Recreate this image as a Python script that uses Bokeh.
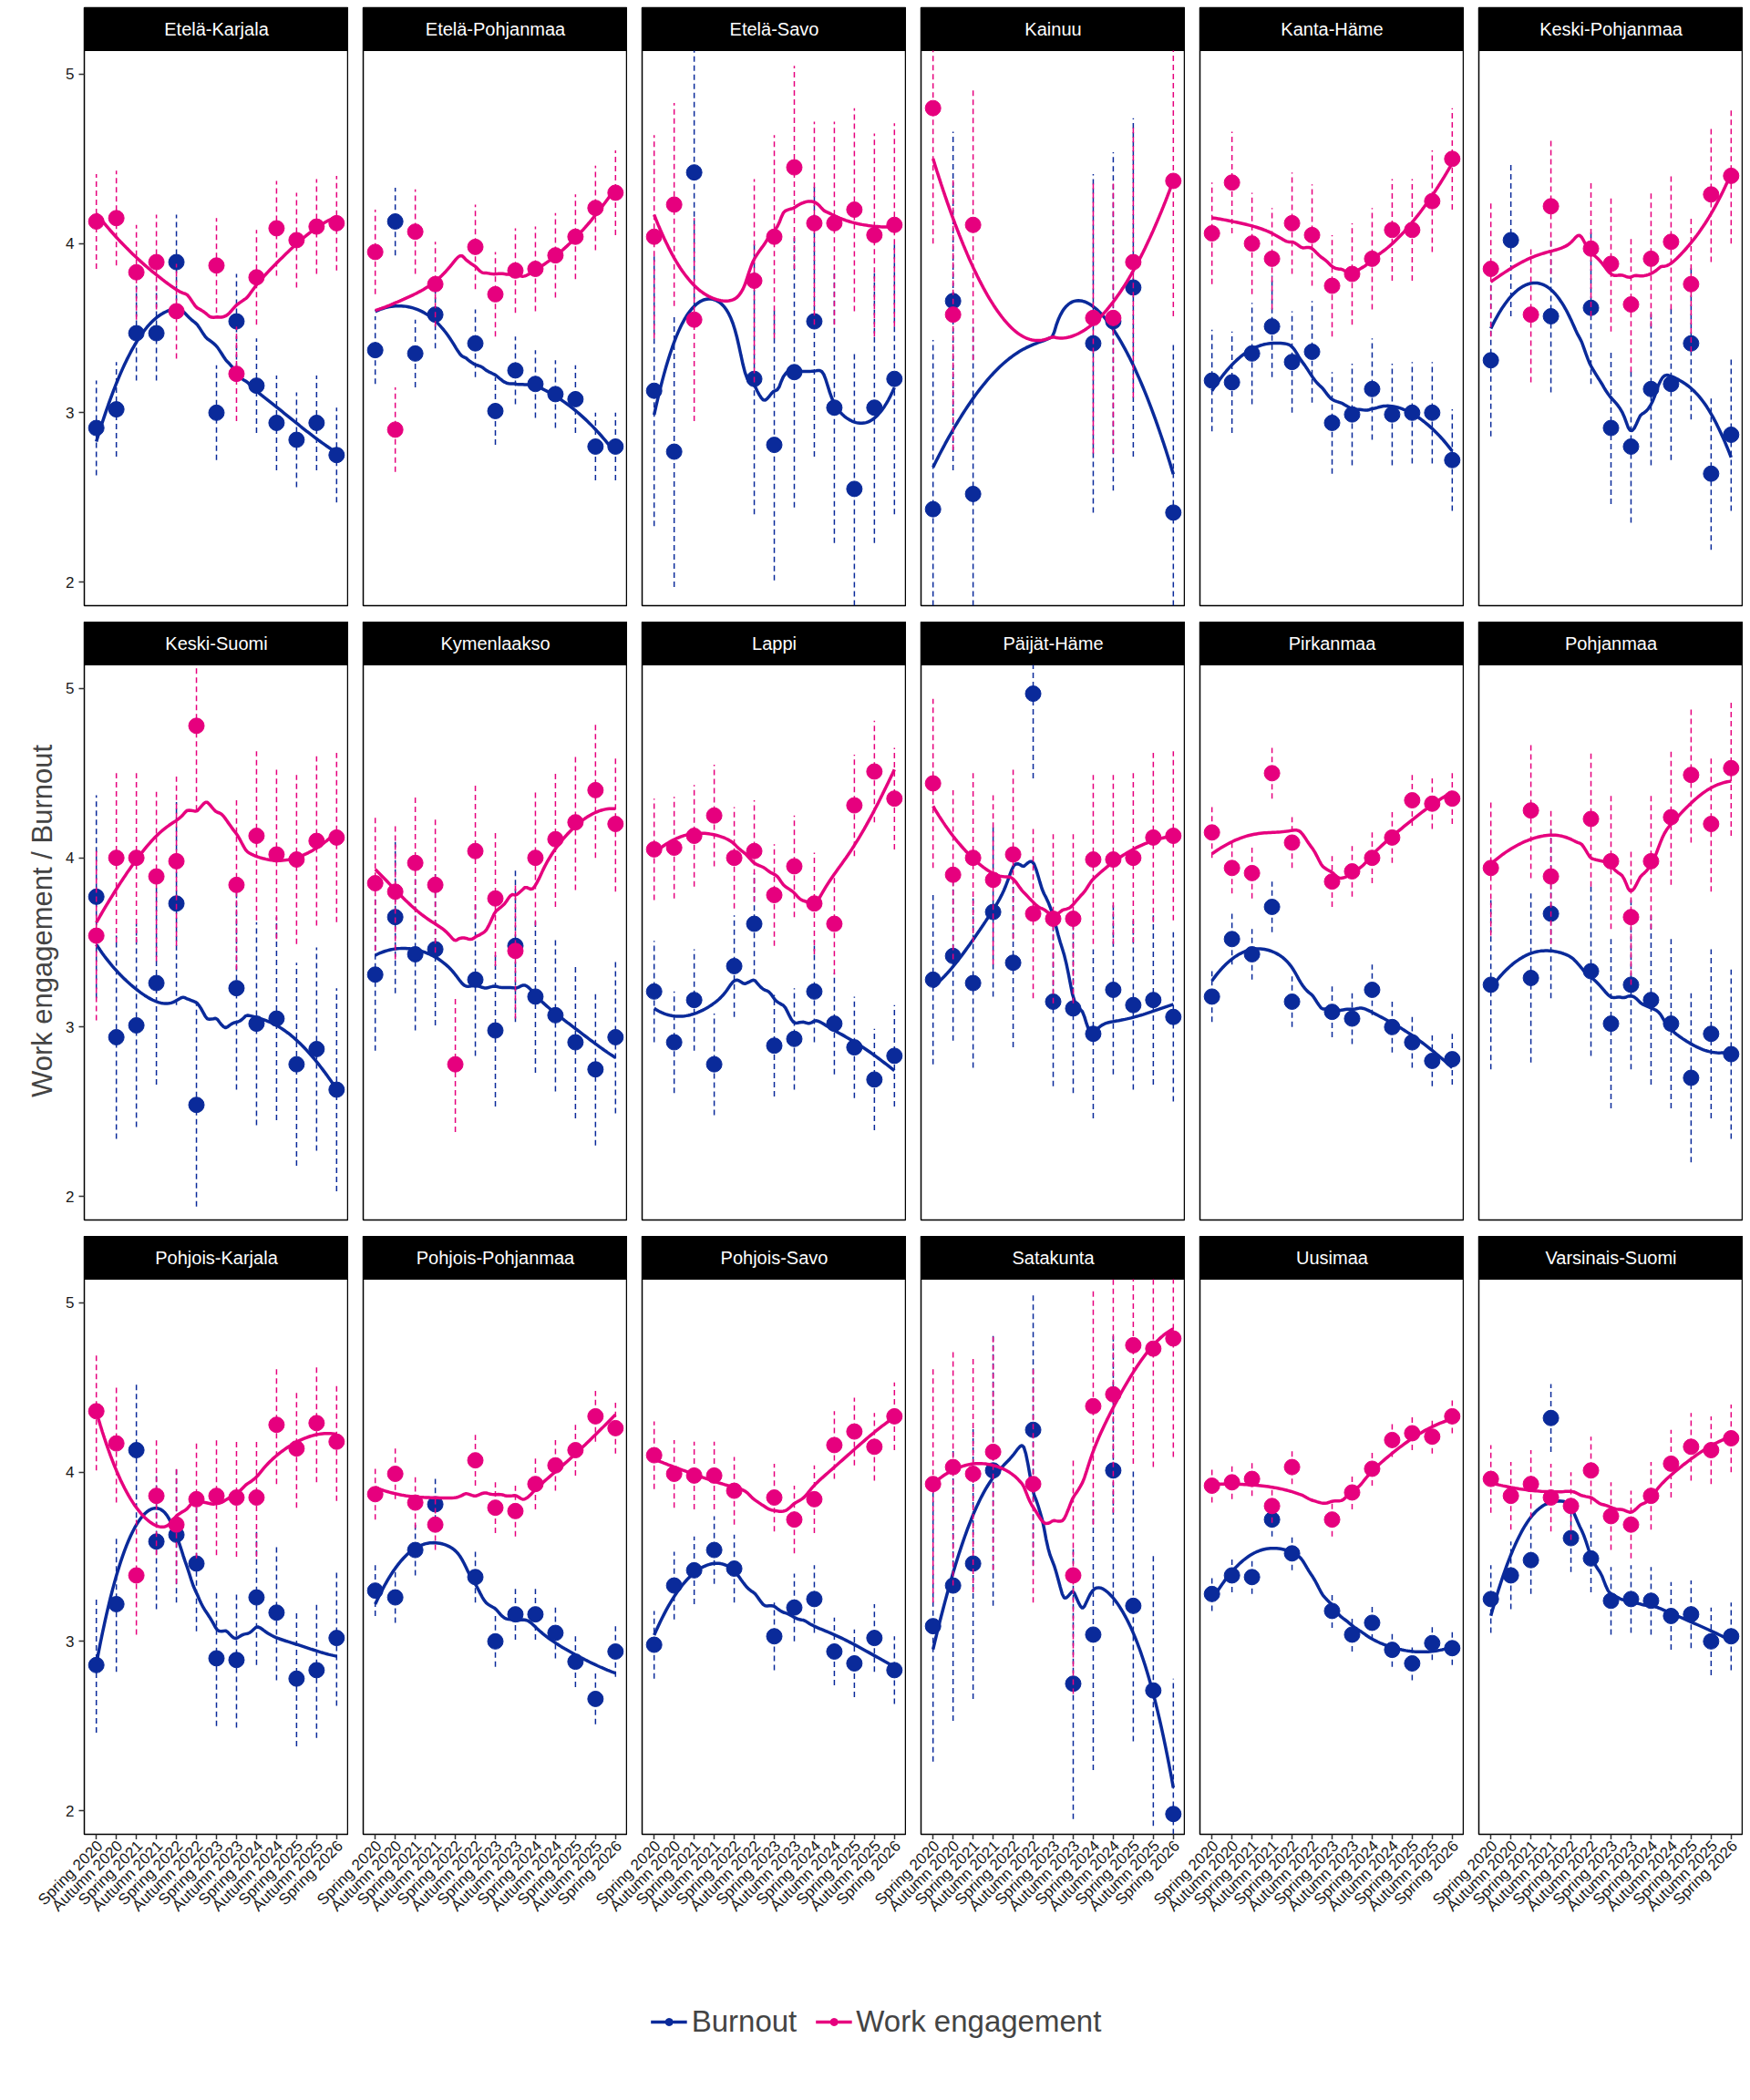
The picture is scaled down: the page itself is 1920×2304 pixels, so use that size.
import numpy as np
from bokeh.plotting import figure
from bokeh.layouts import gridplot, column
from bokeh.models import FixedTicker, Range1d, Legend, LegendItem
from bokeh.core.properties import value
from bokeh.embed import file_html
from bokeh.resources import INLINE

nan = float("nan")
periods = ["Spring 2020", "Autumn 2020", "Spring 2021", "Autumn 2021", "Spring 2022", "Autumn 2022",
           "Spring 2023", "Autumn 2023", "Spring 2024", "Autumn 2024", "Spring 2025", "Autumn 2025", "Spring 2026"]
regions = ["Etelä-Karjala", "Etelä-Pohjanmaa", "Etelä-Savo", "Kainuu", "Kanta-Häme", "Keski-Pohjanmaa",
           "Keski-Suomi", "Kymenlaakso", "Lappi", "Päijät-Häme", "Pirkanmaa", "Pohjanmaa",
           "Pohjois-Karjala", "Pohjois-Pohjanmaa", "Pohjois-Savo", "Satakunta", "Uusimaa", "Varsinais-Suomi"]

burnout = {
    "Etelä-Karjala": [2.91, 3.02, 3.47, 3.47, 3.89, nan, 3.00, 3.54, 3.16, 2.94, 2.84, 2.94, 2.75],
    "Etelä-Pohjanmaa": [3.37, 4.13, 3.35, 3.58, nan, 3.41, 3.01, 3.25, 3.17, 3.11, 3.08, 2.80, 2.80],
    "Etelä-Savo": [3.13, 2.77, 4.42, nan, nan, 3.20, 2.81, 3.24, 3.54, 3.03, 2.55, 3.03, 3.20],
    "Kainuu": [2.43, 3.66, 2.52, nan, nan, nan, nan, nan, 3.41, 3.54, 3.74, nan, 2.41],
    "Kanta-Häme": [3.19, 3.18, 3.35, 3.51, 3.30, 3.36, 2.94, 2.99, 3.14, 2.99, 3.00, 3.00, 2.72],
    "Keski-Pohjanmaa": [3.31, 4.02, nan, 3.57, nan, 3.62, 2.91, 2.80, 3.14, 3.17, 3.41, 2.64, 2.87],
    "Keski-Suomi": [3.77, 2.94, 3.01, 3.26, 3.73, 2.54, nan, 3.23, 3.02, 3.05, 2.78, 2.87, 2.63],
    "Kymenlaakso": [3.31, 3.65, 3.43, 3.46, nan, 3.28, 2.98, 3.48, 3.18, 3.07, 2.91, 2.75, 2.94],
    "Lappi": [3.21, 2.91, 3.16, 2.78, 3.36, 3.61, 2.89, 2.93, 3.21, 3.02, 2.88, 2.69, 2.83],
    "Päijät-Häme": [3.28, 3.42, 3.26, 3.68, 3.38, 4.97, 3.15, 3.11, 2.96, 3.22, 3.13, 3.16, 3.06],
    "Pirkanmaa": [3.18, 3.52, 3.43, 3.71, 3.15, nan, 3.09, 3.05, 3.22, 3.00, 2.91, 2.80, 2.81],
    "Pohjanmaa": [3.25, nan, 3.29, 3.67, nan, 3.33, 3.02, 3.25, 3.16, 3.02, 2.70, 2.96, 2.84],
    "Pohjois-Karjala": [2.86, 3.22, 4.13, 3.59, 3.63, 3.46, 2.90, 2.89, 3.26, 3.17, 2.78, 2.83, 3.02],
    "Pohjois-Pohjanmaa": [3.30, 3.26, 3.54, 3.81, nan, 3.38, 3.00, 3.16, 3.16, 3.05, 2.88, 2.66, 2.94],
    "Pohjois-Savo": [2.98, 3.33, 3.42, 3.54, 3.43, nan, 3.03, 3.20, 3.25, 2.94, 2.87, 3.02, 2.83],
    "Satakunta": [3.09, 3.33, 3.46, 4.01, nan, 4.25, nan, 2.75, 3.04, 4.01, 3.21, 2.71, 1.98],
    "Uusimaa": [3.28, 3.39, 3.38, 3.72, 3.52, nan, 3.18, 3.04, 3.11, 2.95, 2.87, 2.99, 2.96],
    "Varsinais-Suomi": [3.25, 3.39, 3.48, 4.32, 3.61, 3.49, 3.24, 3.25, 3.24, 3.15, 3.16, 3.00, 3.03],
}
engagement = {
    "Etelä-Karjala": [4.13, 4.15, 3.83, 3.89, 3.60, nan, 3.87, 3.23, 3.80, 4.09, 4.02, 4.10, 4.12],
    "Etelä-Pohjanmaa": [3.95, 2.90, 4.07, 3.76, nan, 3.98, 3.70, 3.84, 3.85, 3.93, 4.04, 4.21, 4.30],
    "Etelä-Savo": [4.04, 4.23, 3.55, nan, nan, 3.78, 4.04, 4.45, 4.12, 4.12, 4.20, 4.05, 4.11],
    "Kainuu": [4.80, 3.58, 4.11, nan, nan, nan, nan, nan, 3.56, 3.56, 3.89, nan, 4.37],
    "Kanta-Häme": [4.06, 4.36, 4.00, 3.91, 4.12, 4.05, 3.75, 3.82, 3.91, 4.08, 4.08, 4.25, 4.50],
    "Keski-Pohjanmaa": [3.85, nan, 3.58, 4.22, nan, 3.97, 3.88, 3.64, 3.91, 4.01, 3.76, 4.29, 4.40],
    "Keski-Suomi": [3.54, 4.00, 4.00, 3.89, 3.98, 4.78, nan, 3.84, 4.13, 4.02, 3.99, 4.10, 4.12],
    "Kymenlaakso": [3.85, 3.80, 3.97, 3.84, 2.78, 4.04, 3.76, 3.45, 4.00, 4.11, 4.21, 4.40, 4.20],
    "Lappi": [4.05, 4.06, 4.13, 4.25, 4.00, 4.04, 3.78, 3.95, 3.73, 3.61, 4.31, 4.51, 4.35],
    "Päijät-Häme": [4.44, 3.90, 4.00, 3.87, 4.02, 3.67, 3.64, 3.64, 3.99, 3.99, 4.00, 4.12, 4.13],
    "Pirkanmaa": [4.15, 3.94, 3.91, 4.50, 4.09, nan, 3.86, 3.92, 4.00, 4.12, 4.34, 4.32, 4.35],
    "Pohjanmaa": [3.94, nan, 4.28, 3.89, nan, 4.23, 3.98, 3.65, 3.98, 4.24, 4.49, 4.20, 4.53],
    "Pohjois-Karjala": [4.36, 4.17, 3.39, 3.86, 3.69, 3.84, 3.86, 3.85, 3.85, 4.28, 4.14, 4.29, 4.18],
    "Pohjois-Pohjanmaa": [3.87, 3.99, 3.82, 3.69, nan, 4.07, 3.79, 3.77, 3.93, 4.04, 4.13, 4.33, 4.26],
    "Pohjois-Savo": [4.10, 3.99, 3.98, 3.98, 3.89, nan, 3.85, 3.72, 3.84, 4.16, 4.24, 4.15, 4.33],
    "Satakunta": [3.93, 4.03, 3.99, 4.12, nan, 3.93, nan, 3.39, 4.39, 4.46, 4.75, 4.73, 4.79],
    "Uusimaa": [3.92, 3.94, 3.96, 3.80, 4.03, nan, 3.72, 3.88, 4.02, 4.19, 4.23, 4.21, 4.33],
    "Varsinais-Suomi": [3.96, 3.86, 3.93, 3.85, 3.80, 4.01, 3.74, 3.69, 3.86, 4.05, 4.15, 4.13, 4.20],
}
# typical half-width of the dashed intervals per region (burnout, engagement)
err_b = [0.28, 0.2, 0.8, 1.0, 0.3, 0.45, 0.6, 0.45, 0.3, 0.5, 0.15, 0.5, 0.4, 0.15, 0.2, 0.8, 0.1, 0.2]
err_e = [0.28, 0.25, 0.6, 0.8, 0.3, 0.4, 0.5, 0.4, 0.3, 0.5, 0.15, 0.4, 0.35, 0.15, 0.2, 0.7, 0.1, 0.2]

BLUE = "#0A2A9A"
PINK = "#E6007E"
FONT = "Liberation Sans"


def loess(x, y, xs, span=0.75):
    n = len(x)
    q = int(np.floor(n * span)) if n >= 9 else n
    out = []
    for x0 in xs:
        d = np.abs(x - x0)
        h = np.sort(d)[q - 1]
        if q >= n:
            h = h * 1.3
        w = np.clip(1 - (d / h) ** 3, 0, None) ** 3
        X = np.vstack([np.ones(n), x - x0, (x - x0) ** 2]).T
        W = np.diag(w)
        beta = np.linalg.lstsq(X.T @ W @ X, X.T @ W @ y, rcond=None)[0]
        out.append(beta[0])
    return np.array(out)


FW, FH0, STRIP = 290, 609, 47
YLO, YHI = 1.86, 5.14
YTOP = YHI + STRIP * (YHI - YLO) / FH0
XLO, XHI = -0.6, 12.6
LB, GAP = 92, 16

figs = []
for i, reg in enumerate(regions):
    r, c = divmod(i, 6)
    p = figure(frame_width=FW, frame_height=FH0 + STRIP, output_backend="svg", toolbar_location=None,
               x_range=Range1d(XLO, XHI), y_range=Range1d(YLO, YTOP),
               min_border_left=(LB if c == 0 else GAP), min_border_right=0,
               min_border_top=(8 if r == 0 else 0), min_border_bottom=(2 if r == 2 else 18))
    p.outline_line_color = "black"
    p.outline_line_width = 1.5
    p.xgrid.visible = False
    p.ygrid.visible = False
    p.xaxis.ticker = FixedTicker(ticks=list(range(13)))
    p.xaxis.major_label_text_font_size = "0px"
    p.yaxis.ticker = FixedTicker(ticks=[2, 3, 4, 5])
    for ax in (p.xaxis[0], p.yaxis[0]):
        ax.axis_line_color = None
        ax.major_tick_line_color = "#333333"
        ax.major_tick_line_width = 1.5
        ax.major_tick_out = 6
        ax.major_tick_in = 0
        ax.minor_tick_line_color = None
    p.yaxis.major_label_text_font = FONT
    p.yaxis.major_label_text_font_size = "17px"
    p.yaxis.major_label_text_color = "#1a1a1a"
    if r != 2:
        p.xaxis.visible = False
    if c != 0:
        p.yaxis.visible = False
    if c == 0:
        p.yaxis.axis_label = "Work engagement / Burnout" if r == 1 else " "
        p.yaxis.axis_label_text_font = FONT
        p.yaxis.axis_label_text_font_size = "31px"
        p.yaxis.axis_label_text_font_style = "normal"
    # strip
    p.quad(left=XLO, right=XHI, bottom=YHI, top=YTOP, fill_color="black", line_color="black")
    p.text(x=[(XLO + XHI) / 2], y=[(YHI + YTOP) / 2], text=[reg], text_color="white",
           text_font=value(FONT), text_font_size="20px", text_align="center", text_baseline="middle")
    for data, err, col in ((burnout[reg], err_b[i], BLUE), (engagement[reg], err_e[i], PINK)):
        y = np.array(data, dtype=float)
        x = np.arange(13, dtype=float)
        m = ~np.isnan(y)
        xm, ym = x[m], y[m]
        p.segment(x0=xm, y0=np.maximum(ym - err, YLO), x1=xm, y1=np.minimum(ym + err, YHI),
                  line_color=col, line_width=1.5, line_dash="6 4")
        xs = np.linspace(xm.min(), xm.max(), 120)
        ys = loess(xm, ym, xs)
        p.line(xs, np.clip(ys, YLO, YHI), line_color=col, line_width=3.5)
        p.scatter(xm, ym, size=17, fill_color=col, line_color=col)
    figs.append(p)

grid = gridplot(figs, ncols=6, toolbar_location=None)

# x tick labels of the bottom row (one shared canvas so rotated labels are not cut)
TOTW = LB + 6 * FW + 5 * GAP + 10
lab = figure(width=TOTW, height=150, output_backend="svg", toolbar_location=None,
             x_range=Range1d(0, TOTW), y_range=Range1d(0, 150), min_border=0)
lab.outline_line_color = None
lab.axis.visible = False
lab.grid.visible = False
lx, ly, lt = [], [], []
for c in range(6):
    left = LB + c * (FW + GAP)
    for k, t in enumerate(periods):
        lx.append(left + (k - XLO) / (XHI - XLO) * FW + 4)
        ly.append(146)
        lt.append(t)
lab.text(x=lx, y=ly, text=lt, angle=np.pi / 4, text_align="right", text_baseline="middle",
         text_font=value(FONT), text_font_size="17px", text_color="#1a1a1a")

lg = figure(width=TOTW, height=100, output_backend="svg", toolbar_location=None,
            x_range=Range1d(0, 1), y_range=Range1d(0, 1), min_border=0)
lg.outline_line_color = None
lg.axis.visible = False
lg.grid.visible = False
r1 = lg.line([-5, -4], [-5, -4], line_color=BLUE, line_width=3.5)
s1 = lg.scatter([-5], [-5], size=17, fill_color=BLUE, line_color=BLUE)
r2 = lg.line([-5, -4], [-5, -4], line_color=PINK, line_width=3.5)
s2 = lg.scatter([-5], [-5], size=17, fill_color=PINK, line_color=PINK)
leg = Legend(items=[LegendItem(label="Burnout", renderers=[r1, s1]),
                    LegendItem(label="Work engagement", renderers=[r2, s2])],
             orientation="horizontal", location="center", border_line_color=None,
             label_text_font=FONT, label_text_font_size="33px",
             glyph_width=40, spacing=20, background_fill_alpha=0)
lg.add_layout(leg, "center")

page = column(grid, lab, lg, spacing=0)
open("out.html", "w").write(file_html(page, INLINE))
